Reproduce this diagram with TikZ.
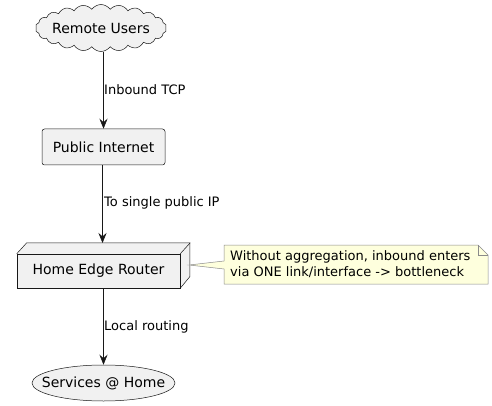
\documentclass[tikz,border=0pt]{standalone}
\usepackage{fontspec}
\setmainfont{DejaVu Sans}
\usetikzlibrary{arrows.meta,shapes.symbols,shapes.geometric,positioning,calc}
\definecolor{nodefill}{HTML}{F1F1F1}
\definecolor{nodeline}{HTML}{181818}
\definecolor{notefill}{HTML}{FEFFDD}
\definecolor{noteline}{HTML}{8A8A8A}
\tikzset{
  elem/.style={draw=nodeline, fill=nodefill, line width=0.5pt, font=\fontsize{14}{16}\selectfont, inner sep=0pt},
  boxnode/.style={elem, rectangle, rounded corners=2.5pt},
  cloudnode/.style={elem, cloud, cloud puffs=22, cloud puff arc=110, aspect=2.8},
  ovalnode/.style={elem, ellipse},
  flow/.style={-{Stealth[length=10pt,width=8pt,inset=3.5pt]}, line width=0.6pt, draw=nodeline},
  lbl/.style={font=\fontsize{13}{15}\selectfont, anchor=west, inner sep=0pt},
}
\begin{document}
\begin{tikzpicture}[x=1pt,y=-1pt]
    \useasboundingbox (0,0) rectangle (492,406);
    % nodes
    \node[cloudnode, minimum width=131pt, minimum height=47pt] (users) at (101,28) {\makebox[0pt]{Remote Users}};
    \node[boxnode, minimum width=123pt, minimum height=36pt] (internet) at (103.5,147) {Public Internet};
    \fill[nodefill] (17,254) -- (27,243) -- (190,243) -- (190,277) -- (180,288) -- (17,288) -- cycle;
    \node[boxnode, rounded corners=0pt, minimum width=163pt, minimum height=34pt] (router) at (98.5,271) {Home Edge Router};
    \draw[nodeline, line width=0.5pt] (router.north west) -- ++(10,-11) -- ++(163,0) -- ++(0,34) -- (router.south east);
    \draw[nodeline, line width=0.5pt] (router.north east) -- ++(10,-11);
    \coordinate (routertop) at (102.5,243);
    \node[ovalnode, minimum width=143pt, minimum height=36pt] (home) at (103.5,383) {\makebox[0pt]{Services @ Home}};
    % note
    \coordinate (tip) at (189,265);
    \filldraw[fill=notefill, draw=noteline, line width=0.5pt] (224,245) -- (478,245) -- (488,255) -- (488,284) -- (224,284) -- (224,269) -- (tip) -- (224,261) -- cycle;
    \draw[noteline, line width=0.5pt] (478,245) -- (478,255) -- (488,255);
    \node[anchor=north west, align=left, inner sep=0pt, font=\fontsize{13}{16}\selectfont] (note) at (230,250) {Without aggregation, inbound enters\\via ONE link/interface -> bottleneck};
    % connectors
    \draw[flow] (users.south -| internet.north) -- (internet.north);
    \draw[flow] (internet.south -| routertop) -- (routertop);
    \draw[flow] (router.south -| home.north) -- (home.north);
    \node[lbl] at (104,90) {Inbound TCP};
    \node[lbl] at (104,203) {To single public IP};
    \node[lbl] at (104,327) {Local routing};
\end{tikzpicture}
\end{document}
